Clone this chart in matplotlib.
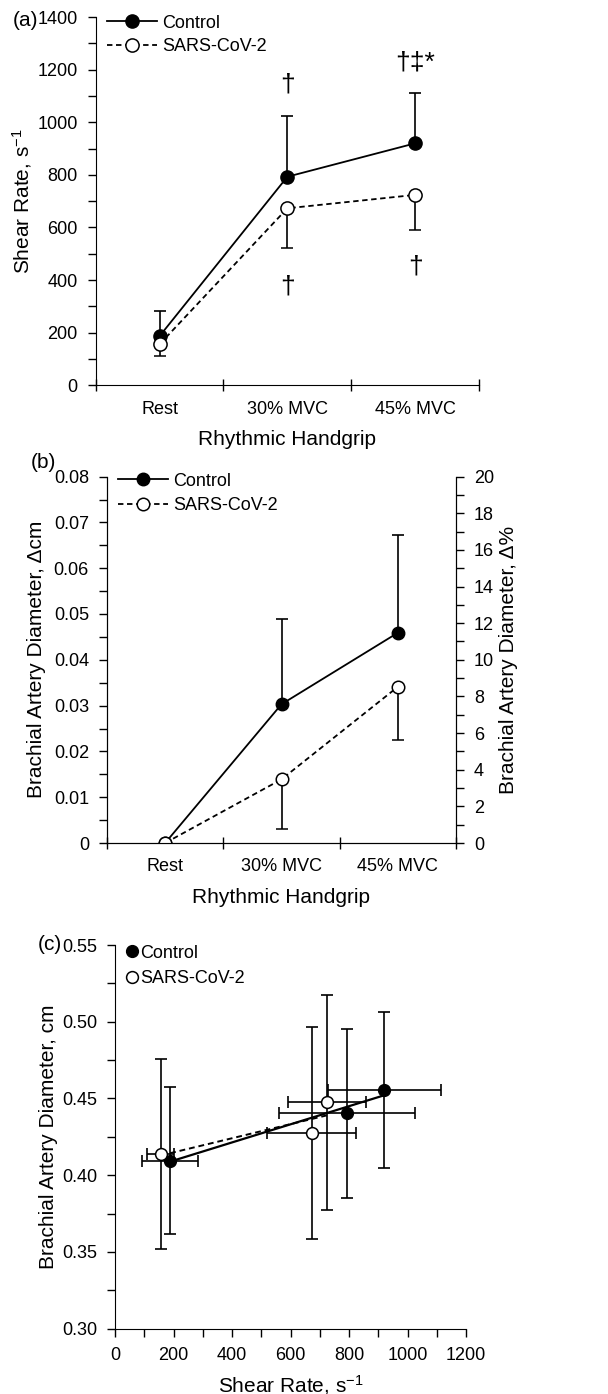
import numpy as np
import matplotlib
matplotlib.use("Agg")
import matplotlib.pyplot as plt
from matplotlib.ticker import MultipleLocator
from matplotlib.lines import Line2D

plt.rcParams['font.family'] = ['Liberation Sans', 'DejaVu Sans']
plt.rcParams['mathtext.fontset'] = 'custom'
plt.rcParams['mathtext.rm'] = 'Liberation Sans'
plt.rcParams['mathtext.default'] = 'regular'

# data
stages = ['Rest', '30% MVC', '45% MVC']

shear_ctrl = [187, 793, 920]
shear_ctrl_sd = [96, 232, 193]
shear_cov = [156, 673, 724]
shear_cov_sd = [45, 152, 134]

diam_chg_ctrl = [0.0, 0.0303, 0.0459]
diam_chg_ctrl_sd = [0.0, 0.0185, 0.0213]
diam_chg_cov = [0.0, 0.0139, 0.0341]
diam_chg_cov_sd = [0.0, 0.0108, 0.0116]

diam_ctrl = [0.4095, 0.4404, 0.4555]
diam_ctrl_sd = [0.048, 0.055, 0.051]
diam_cov = [0.4137, 0.4273, 0.4475]
diam_cov_sd = [0.062, 0.069, 0.070]

sig_marks = [(1, 1142, '†'), (2, 1226, '†‡*'), (1, 374, '†'), (2, 453, '†')]

W, H = 608, 1394
fig = plt.figure(figsize=(W / 100, H / 100), dpi=100)

def px_axes(left, top, right, bottom):
    return fig.add_axes([left / W, 1 - bottom / H, (right - left) / W, (bottom - top) / H])

lw = 1.3
dash = (0, (3, 2))

def cat_axis(ax):
    ax.set_xlim(-0.5, 2.5)
    ax.set_xticks([-0.5, 0.5, 1.5, 2.5])
    ax.set_xticklabels([])
    ax.set_xticks(range(3), stages, minor=True)
    ax.tick_params(axis='x', which='major', direction='inout', length=8, width=1)
    ax.tick_params(axis='x', which='minor', length=0, pad=11, labelsize=13)

def line_handles(ms):
    return [Line2D([], [], color='black', lw=lw, marker='o', ms=ms, mfc='black', mec='black'),
            Line2D([], [], color='black', lw=lw, ls=dash, marker='o', ms=ms, mfc='white',
                   mec='black', mew=1.1)]

# ---------- (a) shear rate ----------
ax = px_axes(95.7, 17.1, 479, 385.3)
x = np.arange(3)
ax.errorbar(x, shear_ctrl, yerr=[np.zeros(3), shear_ctrl_sd], color='black', lw=lw,
            marker='o', ms=9.5, mfc='black', mec='black', capsize=4, elinewidth=1.2,
            capthick=1.2, zorder=3)
ax.errorbar(x, shear_cov, yerr=[shear_cov_sd, np.zeros(3)], color='black', lw=lw, ls=dash,
            marker='o', ms=9.5, mfc='white', mec='black', mew=1.1, capsize=4,
            elinewidth=1.2, capthick=1.2, zorder=3)
for xi, yi, s in sig_marks:
    ax.text(xi, yi, s, ha='center', va='center', fontsize=19)
ax.set_ylim(0, 1400)
ax.yaxis.set_major_locator(MultipleLocator(200))
ax.yaxis.set_minor_locator(MultipleLocator(100))
ax.tick_params(axis='y', which='both', direction='out', length=6, width=1, labelsize=13, pad=7)
cat_axis(ax)
for s in ['top', 'right']:
    ax.spines[s].set_visible(False)
ax.set_ylabel('Shear Rate, s$^{-1}$', fontsize=15)
ax.yaxis.set_label_coords(-0.161, 0.5)
ax.set_xlabel('Rhythmic Handgrip', fontsize=15)
ax.xaxis.set_label_coords(0.5, -0.121)
ax.legend(line_handles(9.5), ['Control', 'SARS-CoV-2'], loc='upper left',
          bbox_to_anchor=(0.0295, 1.0065), frameon=False, fontsize=13,
          handlelength=2.78, handletextpad=0.28, labelspacing=0.35, borderpad=0,
          borderaxespad=0, numpoints=1)
fig.text(25 / W, 1 - 20 / H, '(a)', ha='center', va='center', fontsize=15)

# ---------- (b) diameter change ----------
ax = px_axes(107, 476.6, 456, 843)
ax.errorbar(x, diam_chg_ctrl, yerr=[np.zeros(3), diam_chg_ctrl_sd], color='black', lw=lw,
            marker='o', ms=9, mfc='black', mec='black', capsize=4, elinewidth=1.2,
            capthick=1.2, zorder=3)
ax.errorbar(x, diam_chg_cov, yerr=[diam_chg_cov_sd, np.zeros(3)], color='black', lw=lw, ls=dash,
            marker='o', ms=9, mfc='white', mec='black', mew=1.1, capsize=4,
            elinewidth=1.2, capthick=1.2, zorder=3)
ax.set_ylim(0, 0.08)
ax.yaxis.set_minor_locator(MultipleLocator(0.005))
ax.set_yticks(np.arange(0, 0.081, 0.01), ['0'] + ['%.2f' % v for v in np.arange(0.01, 0.081, 0.01)])
ax.tick_params(axis='y', which='both', direction='out', length=6, width=1, labelsize=13, pad=7)
cat_axis(ax)
ax.spines['top'].set_visible(False)
ax.set_ylabel('Brachial Artery Diameter, Δcm', fontsize=15)
ax.yaxis.set_label_coords(-0.175, 0.5)
ax.set_xlabel('Rhythmic Handgrip', fontsize=15)
ax.xaxis.set_label_coords(0.5, -0.123)
ax.legend(line_handles(9), ['Control', 'SARS-CoV-2'], loc='upper left',
          bbox_to_anchor=(0.0315, 1.0106), frameon=False, fontsize=13,
          handlelength=2.78, handletextpad=0.28, labelspacing=0.4, borderpad=0,
          borderaxespad=0, numpoints=1)
ax2 = ax.twinx()
ax2.set_ylim(0, 20)
ax2.yaxis.set_major_locator(MultipleLocator(2))
ax2.yaxis.set_minor_locator(MultipleLocator(1))
ax2.tick_params(axis='y', which='both', direction='out', length=6, width=1, labelsize=13, pad=7)
ax2.spines['top'].set_visible(False)
ax2.set_ylabel('Brachial Artery Diameter, Δ%', fontsize=15)
ax2.yaxis.set_label_coords(1.123, 0.5)
fig.text(43 / W, 1 - 463 / H, '(b)', ha='center', va='center', fontsize=15)

# ---------- (c) diameter vs shear ----------
ax = px_axes(115, 945, 466, 1328.7)
ax.errorbar(shear_ctrl, diam_ctrl, xerr=shear_ctrl_sd, yerr=diam_ctrl_sd, fmt='none',
            ecolor='black', elinewidth=1.2, capsize=4, capthick=1.2, zorder=2)
ax.errorbar(shear_cov, diam_cov, xerr=shear_cov_sd, yerr=diam_cov_sd, fmt='none',
            ecolor='black', elinewidth=1.2, capsize=4, capthick=1.2, zorder=2)
fit_c = np.polyfit(shear_ctrl, diam_ctrl, 1)
fit_s = np.polyfit(shear_cov, diam_cov, 1)
xc = np.array([min(shear_ctrl), max(shear_ctrl)])
xs = np.array([min(shear_cov), max(shear_cov)])
ax.plot(xc, np.polyval(fit_c, xc), color='black', lw=1.6, zorder=3)
ax.plot(xs, np.polyval(fit_s, xs), color='black', lw=1.4, ls=dash, zorder=3)
ax.plot(shear_ctrl, diam_ctrl, 'o', ms=8.5, mfc='black', mec='black', ls='none',
        label='Control', zorder=4)
ax.plot(shear_cov, diam_cov, 'o', ms=8.5, mfc='white', mec='black', mew=1.1, ls='none',
        label='SARS-CoV-2', zorder=4)
ax.set_xlim(0, 1200)
ax.set_ylim(0.30, 0.55)
ax.xaxis.set_major_locator(MultipleLocator(200))
ax.xaxis.set_minor_locator(MultipleLocator(100))
ax.yaxis.set_minor_locator(MultipleLocator(0.025))
ax.set_yticks(np.arange(0.30, 0.551, 0.05), ['%.2f' % v for v in np.arange(0.30, 0.551, 0.05)])
ax.tick_params(axis='both', which='both', direction='out', length=6, width=1, labelsize=13)
ax.tick_params(axis='y', pad=7)
ax.tick_params(axis='x', pad=7)
for s in ['top', 'right']:
    ax.spines[s].set_visible(False)
ax.set_ylabel('Brachial Artery Diameter, cm', fontsize=15)
ax.yaxis.set_label_coords(-0.162, 0.5)
ax.set_xlabel('Shear Rate, s$^{-1}$', fontsize=15)
ax.xaxis.set_label_coords(0.5, -0.115)
ax.legend(loc='upper left', bbox_to_anchor=(0.033, 1.0008), frameon=False, fontsize=13,
          handlelength=0.6, handletextpad=0.15, labelspacing=0.46, borderpad=0,
          borderaxespad=0, numpoints=1)
fig.text(50 / W, 1 - 945 / H, '(c)', ha='center', va='center', fontsize=15)

fig.savefig('out.png', dpi=100)
